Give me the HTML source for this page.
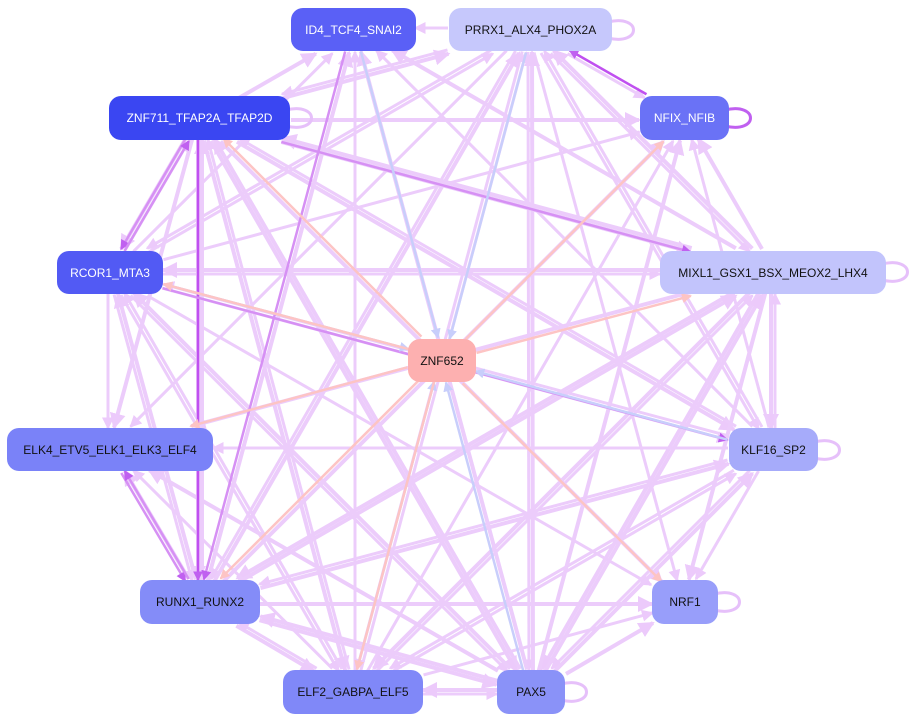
<!DOCTYPE html>
<html><head><meta charset="utf-8"><style>
html,body{margin:0;padding:0;background:#fff;width:917px;height:721px;overflow:hidden}
#c{position:absolute;left:0;top:0}
.n{position:absolute;border-radius:12px;font-family:"Liberation Sans",sans-serif;font-size:12px;display:flex;align-items:center;justify-content:center;box-sizing:border-box}
.w{color:#fff}.d{color:#111}
</style></head><body>
<svg id="c" width="917" height="721" xmlns="http://www.w3.org/2000/svg">
<defs>
<marker id="ma" markerWidth="4" markerHeight="4" refX="3.5" refY="2" orient="auto" markerUnits="strokeWidth"><path d="M0,0 L4,2 L0,4z" fill="#eccafb"/></marker>
<marker id="mb" markerWidth="4" markerHeight="4" refX="3.5" refY="2" orient="auto" markerUnits="strokeWidth"><path d="M0,0 L4,2 L0,4z" fill="#c8cefb"/></marker>
<marker id="mp" markerWidth="4" markerHeight="4" refX="3.5" refY="2" orient="auto" markerUnits="strokeWidth"><path d="M0,0 L4,2 L0,4z" fill="#fdc4c4"/></marker>
<marker id="md" markerWidth="4" markerHeight="4" refX="3.5" refY="2" orient="auto" markerUnits="strokeWidth"><path d="M0,0 L4,2 L0,4z" fill="#c060f0"/></marker>
</defs>
<g id="e"></g>
</svg>
<div class="n w" style="left:291px;top:8px;width:125px;height:43px;background:#5a60f6">ID4_TCF4_SNAI2</div>
<div class="n d" style="left:449px;top:8px;width:163px;height:43px;background:#c6c8fc">PRRX1_ALX4_PHOX2A</div>
<div class="n w" style="left:109px;top:96px;width:181px;height:44px;background:#3a46f2">ZNF711_TFAP2A_TFAP2D</div>
<div class="n w" style="left:640px;top:96px;width:89px;height:44px;background:#6a72f6">NFIX_NFIB</div>
<div class="n w" style="left:57px;top:251px;width:106px;height:43px;background:#525af4">RCOR1_MTA3</div>
<div class="n d" style="left:660px;top:251px;width:226px;height:43px;background:#c2c4fc">MIXL1_GSX1_BSX_MEOX2_LHX4</div>
<div class="n d" style="left:408px;top:339px;width:68px;height:43px;background:#fdb0b0">ZNF652</div>
<div class="n d" style="left:7px;top:428px;width:206px;height:43px;background:#7a82f8">ELK4_ETV5_ELK1_ELK3_ELF4</div>
<div class="n d" style="left:729px;top:428px;width:89px;height:43px;background:#a6abfa">KLF16_SP2</div>
<div class="n d" style="left:140px;top:580px;width:120px;height:44px;background:#848cf8">RUNX1_RUNX2</div>
<div class="n d" style="left:652px;top:580px;width:66px;height:44px;background:#989efa">NRF1</div>
<div class="n d" style="left:283px;top:670px;width:140px;height:44px;background:#8088f8">ELF2_GABPA_ELF5</div>
<div class="n d" style="left:497px;top:670px;width:68px;height:44px;background:#8a92f8">PAX5</div>
<script>
var N={ID4:[353,30,62,22],PR:[530,30,82,22],ZN:[200,118,91,22],NF:[684,118,45,22],RC:[110,272,53,22],MI:[773,272,113,22],Z6:[442,360,34,22],EL:[110,450,103,22],KL:[773,450,45,22],RU:[200,602,60,22],NR:[685,602,33,22],EF:[353,692,70,22],PA:[531,692,34,22]};
var g=document.getElementById('e'),S='http://www.w3.org/2000/svg';
function bnd(a,b){var dx=b[0]-a[0],dy=b[1]-a[1];var t=Math.min(a[2]/Math.abs(dx||1e-6),a[3]/Math.abs(dy||1e-6));return [a[0]+dx*t,a[1]+dy*t];}
function line(f,t,col,w,m,off){var a=N[f],b=N[t];off=off||0;var dx=b[0]-a[0],dy=b[1]-a[1],L=Math.hypot(dx,dy);var ox=-dy/L*off,oy=dx/L*off;
var p=bnd([a[0]+ox,a[1]+oy,a[2],a[3]],[b[0]+ox,b[1]+oy]),q=bnd([b[0]+ox,b[1]+oy,b[2],b[3]],[a[0]+ox,a[1]+oy]);
var l=document.createElementNS(S,'line');l.setAttribute('x1',p[0]);l.setAttribute('y1',p[1]);l.setAttribute('x2',q[0]);l.setAttribute('y2',q[1]);
l.setAttribute('stroke',col);l.setAttribute('stroke-width',w);l.setAttribute('marker-end','url(#'+m+')');g.appendChild(l);}
var O=['ID4','PR','ZN','NF','RC','MI','EL','KL','RU','NR','EF','PA'];
for(var i=0;i<O.length;i++)for(var j=0;j<O.length;j++){if(i==j)continue;if((i*5+j*3)%3==0)continue;line(O[i],O[j],'#ecccfb',((i*7+j*3)%3)+2,'ma',2);}
var dk=[['NF','PR'],['ZN','RU'],['ZN','RC'],['RC','ZN'],['EL','RU'],['RU','EL'],['ID4','RU'],['ZN','MI'],['RC','KL']];
dk.forEach(function(e,k){line(e[0],e[1],k<2?'#c050f0':'#d690f4',2.5,'md',2);});
['ID4','PR','PA','EF','KL','RC'].forEach(function(s){line(s,'Z6','#c8cefb',2.5,'mb',-2);});
['NF','MI','RC','ZN','EL','RU','NR','EF'].forEach(function(t){line('Z6',t,'#fdc4c4',2.5,'mp',2);});
[['PR',612,30],['NF',729,118],['MI',886,272],['KL',818,450],['NR',718,602],['PA',565,692],['ZN',290,118]].forEach(function(s){
var p=document.createElementNS(S,'path');p.setAttribute('d','M'+(s[1]-4)+','+(s[2]-8)+' C'+(s[1]+30)+','+(s[2]-16)+' '+(s[1]+30)+','+(s[2]+16)+' '+(s[1]-4)+','+(s[2]+8));
p.setAttribute('fill','none');p.setAttribute('stroke',s[0]=='NF'?'#c060f0':'#e6c0fa');p.setAttribute('stroke-width',3);g.appendChild(p);});
</script>
</body></html>
